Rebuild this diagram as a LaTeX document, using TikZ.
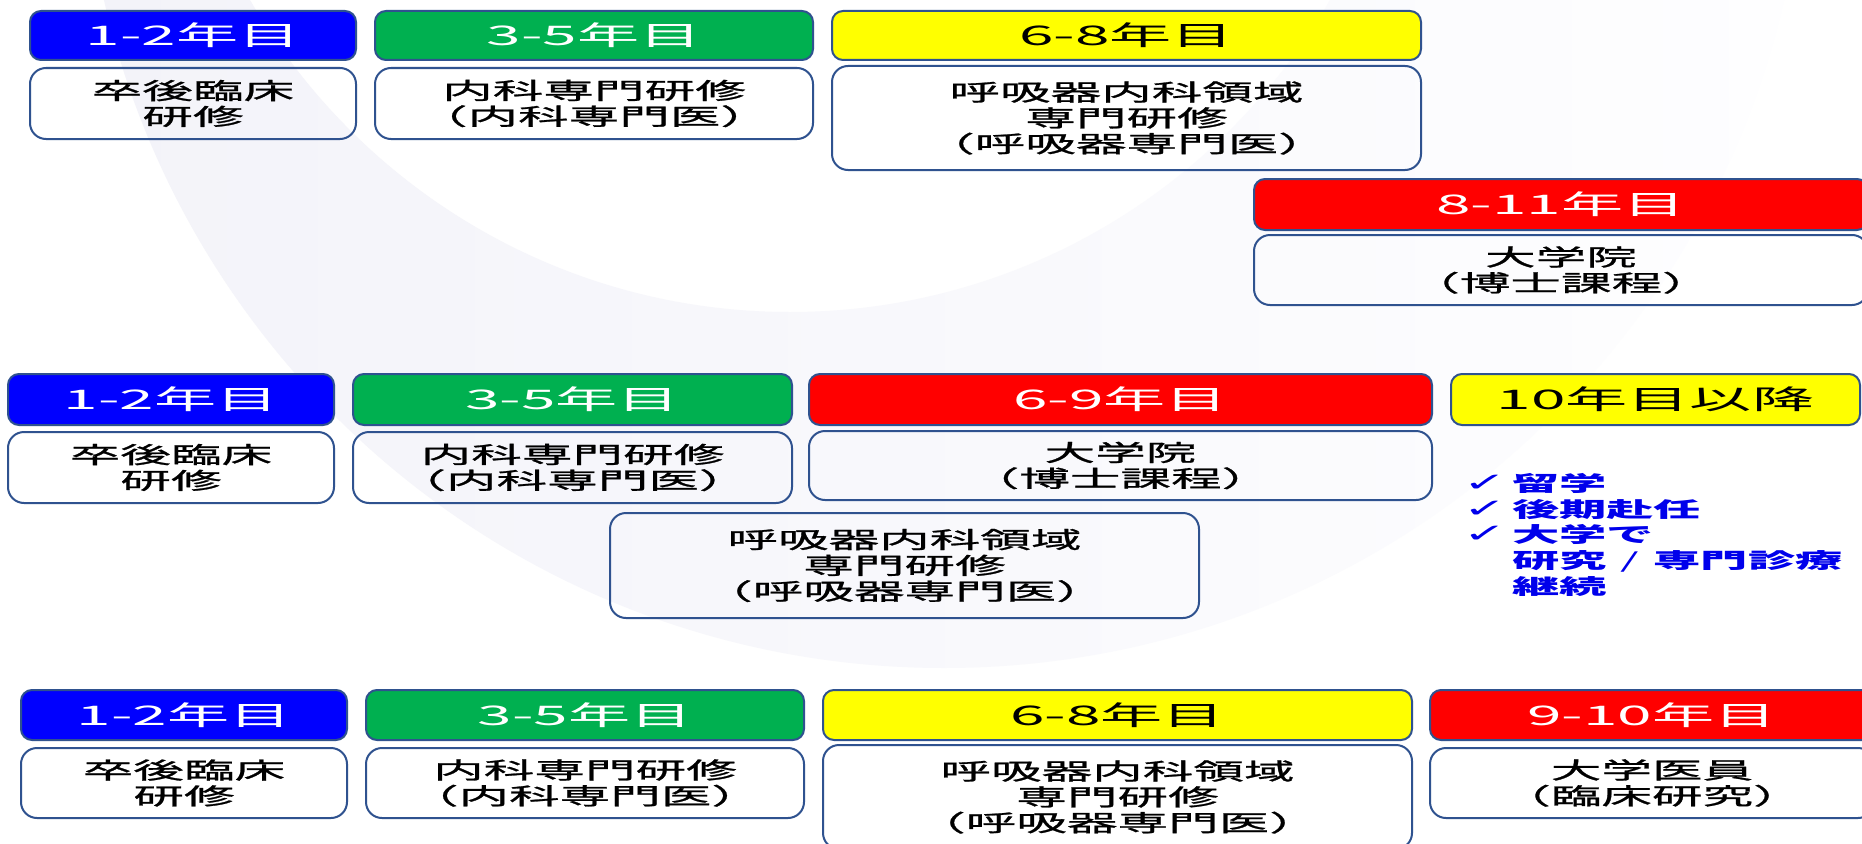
\documentclass[tikz,border=0pt]{standalone}
\usepackage{fontspec}
\newfontfamily\jphead[FakeStretch=2.3]{Noto Sans CJK JP}
\newfontfamily\jpbox[FakeStretch=2.2, FakeBold=1.1]{Noto Sans CJK JP}
\newfontfamily\jplist[FakeStretch=2.25]{Noto Sans CJK JP}
\newfontfamily\symfont[FakeStretch=2.0]{DejaVu Sans}
\definecolor{bord}{RGB}{47,82,143}
\definecolor{hblue}{RGB}{0,0,255}
\definecolor{hgreen}{RGB}{0,176,80}
\definecolor{hyellow}{RGB}{255,255,0}
\definecolor{hred}{RGB}{255,0,0}
\definecolor{ringl}{RGB}{243,243,249}
\definecolor{ringr}{RGB}{254,254,255}
\definecolor{chk}{RGB}{0,0,235}
\newcommand{\chkmark}{\makebox[49pt][l]{\symfont\fontsize{26}{25.8}\selectfont ✓}}
\tikzset{
  hdr/.style={draw=bord, line width=2pt, rounded corners=11pt, inner sep=0pt,
    font=\jphead\fontsize{27}{30}\selectfont},
  hwhite/.style={hdr, text=white},
  hblack/.style={hdr, text=black},
  boxn/.style={draw=bord, line width=2pt, rounded corners=16pt, inner sep=0pt, align=center,
    font=\jpbox\fontsize{23}{25.8}\selectfont},
}
\begin{document}
\begin{tikzpicture}[x=1pt,y=-1pt]
\useasboundingbox (0,0) rectangle (1862,843);
\clip (0,0) rectangle (1862,843);
\fill[white] (0,0) rectangle (1862,843);
% faint background ring
\shade[left color=ringl, right color=ringr, even odd rule]
  (944,-194) circle[radius=862] (790,-311) circle[radius=623];

% ---- row 1
\node[hwhite, fill=hblue, minimum width=326, minimum height=49] (a1) at (193,35.5) {1-2年目};
\node[hwhite, fill=hgreen, minimum width=438, minimum height=49] (a2) at (594,35.5) {3-5年目};
\node[hblack, fill=hyellow, minimum width=589, minimum height=49] (a3) at (1126.5,35.5) {6-8年目};
\node[boxn, minimum width=326, minimum height=71] (ab1) at (193,103.5) {卒後臨床\\研修};
\node[boxn, minimum width=438, minimum height=71] (ab2) at (594,103.5) {内科専門研修\\（内科専門医）};
\node[boxn, minimum width=589, minimum height=104] (ab3) at (1126.5,118) {呼吸器内科領域\\専門研修\\（呼吸器専門医）};
\node[hwhite, fill=hred, minimum width=614, minimum height=51] (a4) at (1561,204.5) {8-11年目};
\node[boxn, minimum width=614, minimum height=70] (ab4) at (1561,270) {大学院\\（博士課程）};

% ---- row 2
\node[hwhite, fill=hblue, minimum width=326, minimum height=51] (b1) at (171,399.5) {1-2年目};
\node[hwhite, fill=hgreen, minimum width=439, minimum height=51] (b2) at (572.5,399.5) {3-5年目};
\node[hwhite, fill=hred, minimum width=623, minimum height=51] (b3) at (1120.5,399.5) {6-9年目};
\node[hblack, fill=hyellow, minimum width=409, minimum height=51] (b4) at (1655.5,399.5) {10年目以降};
\node[boxn, minimum width=326, minimum height=71] (bb1) at (171,467.5) {卒後臨床\\研修};
\node[boxn, minimum width=439, minimum height=71] (bb2) at (572.5,467.5) {内科専門研修\\（内科専門医）};
\node[boxn, minimum width=623, minimum height=69] (bb3) at (1120.5,465.5) {大学院\\（博士課程）};
\node[boxn, minimum width=589, minimum height=105] (bb5) at (904.5,565.5) {呼吸器内科領域\\専門研修\\（呼吸器専門医）};
\node[anchor=north west, inner sep=0pt, align=left, text=chk,
  font=\jplist\bfseries\fontsize{21}{25.8}\selectfont] (list) at (1463,473)
  {\chkmark 留学\\
   \chkmark 後期赴任\\
   \chkmark 大学で\\
   \hspace*{49pt}研究\makebox[47pt][c]{\mdseries /}専門診療\\
   \hspace*{49pt}継続};

% ---- row 3
\node[hwhite, fill=hblue, minimum width=326, minimum height=50] (c1) at (184,715) {1-2年目};
\node[hwhite, fill=hgreen, minimum width=438, minimum height=50] (c2) at (585,715) {3-5年目};
\node[hblack, fill=hyellow, minimum width=589, minimum height=50] (c3) at (1117.5,715) {6-8年目};
\node[hwhite, fill=hred, minimum width=444, minimum height=50] (c4) at (1652,715) {9-10年目};
\node[boxn, minimum width=326, minimum height=70] (cb1) at (184,783) {卒後臨床\\研修};
\node[boxn, minimum width=438, minimum height=70] (cb2) at (585,783) {内科専門研修\\（内科専門医）};
\node[boxn, minimum width=589, minimum height=104] (cb3) at (1117.5,797) {呼吸器内科領域\\専門研修\\（呼吸器専門医）};
\node[boxn, minimum width=444, minimum height=70] (cb4) at (1652,783) {大学医員\\（臨床研究）};
\end{tikzpicture}
\end{document}
